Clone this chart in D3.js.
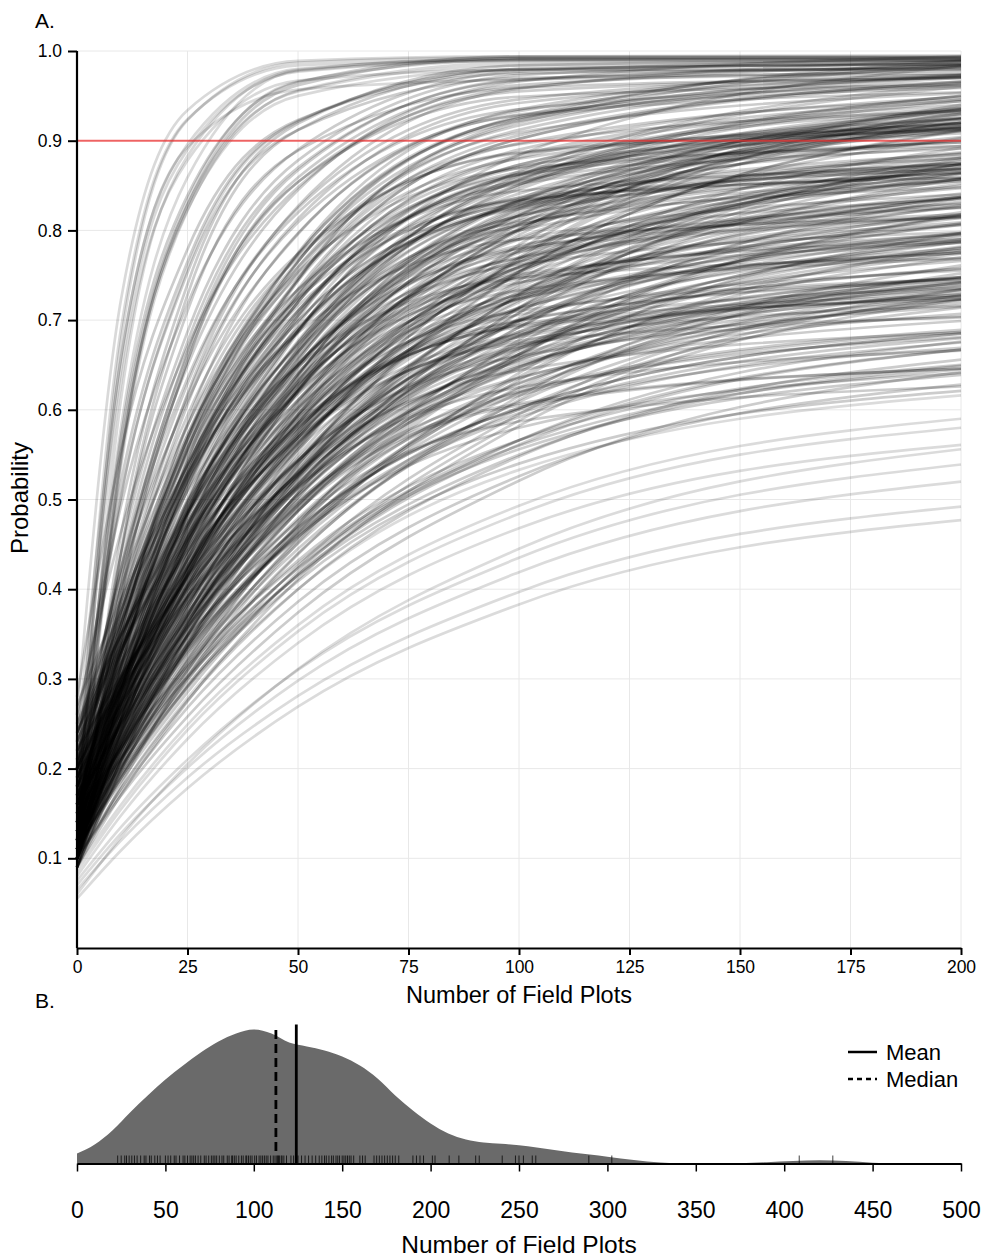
<!DOCTYPE html>
<html>
<head>
<meta charset="utf-8">
<script src="https://cdn.jsdelivr.net/npm/d3@7"></script>
<style>
  body { margin: 0; background: #fff; }
  text { font-family: "Liberation Sans", Arial, Helvetica, sans-serif; fill: #000; }
</style>
</head>
<body>
<div id="chart"></div>
<script>
// ----------------------------------------------------------------
// Data
// ----------------------------------------------------------------

// number of field plots at which each curve was read
const nSteps = [0, 10, 25, 50, 100, 200];

// probability curves, one row per curve, values at nSteps
const curvesFast = [
  [.140,.679,.923,.987,.993,.993],
  [.180,.692,.924,.984,.990,.990],
  [.120,.613,.883,.979,.992,.992],
  [.200,.646,.890,.977,.989,.989],
  [.160,.562,.829,.955,.984,.985],
  [.230,.660,.896,.980,.991,.991],
  [.110,.538,.822,.956,.987,.988],
  [.150,.554,.823,.950,.979,.980],
  [.260,.724,.934,.989,.994,.994],
  [.190,.503,.758,.921,.980,.986],
  [.140,.659,.893,.957,.968,.973],
  [.180,.631,.878,.967,.979,.979],
  [.160,.582,.859,.978,.990,.992],
  [.120,.548,.834,.966,.990,.992]
];
const curvesTop = [
  [.120,.462,.740,.919,.984,.990],
  [.220,.521,.765,.922,.980,.985],
  [.150,.425,.676,.870,.967,.982],
  [.100,.390,.655,.859,.962,.978],
  [.180,.405,.629,.825,.946,.974],
  [.250,.494,.718,.890,.977,.990],
  [.130,.368,.606,.813,.942,.971],
  [.200,.425,.649,.845,.966,.994],
  [.110,.328,.556,.775,.935,.982],
  [.160,.361,.572,.774,.922,.966],
  [.280,.555,.779,.923,.975,.980],
  [.140,.328,.535,.746,.920,.984],
  [.190,.362,.553,.746,.906,.965],
  [.100,.343,.586,.797,.929,.959],
  [.230,.416,.610,.796,.933,.973],
  [.120,.313,.527,.744,.923,.989],
  [.170,.440,.687,.878,.973,.988],
  [.090,.442,.728,.912,.979,.985],
  [.210,.423,.635,.820,.935,.961],
  [.130,.283,.462,.664,.861,.960],
  [.150,.303,.483,.686,.884,.983],
  [.260,.465,.670,.848,.959,.984],
  [.110,.394,.654,.854,.955,.970],
  [.200,.375,.568,.765,.927,.986],
  [.140,.343,.556,.759,.909,.953],
  [.170,.572,.839,.965,.994,.995],
  [.120,.545,.828,.962,.992,.993],
  [.240,.403,.583,.766,.917,.973],
  [.120,.442,.710,.889,.959,.970],
  [.200,.506,.753,.912,.970,.975],
  [.140,.413,.662,.854,.949,.962],
  [.120,.405,.665,.867,.968,.983],
  [.170,.393,.615,.809,.928,.954],
  [.140,.378,.618,.827,.958,.989],
  [.090,.313,.544,.765,.925,.972],
  [.160,.341,.542,.744,.897,.946],
  [.130,.316,.521,.730,.902,.964],
  [.210,.377,.563,.754,.912,.970],
  [.110,.268,.450,.654,.851,.950],
  [.140,.291,.469,.670,.866,.963],
  [.200,.355,.538,.735,.902,.966],
  [.150,.353,.568,.773,.925,.971]
];
const curvesHigh = [
  [.100,.254,.434,.637,.835,.935],
  [.150,.293,.460,.649,.833,.926],
  [.200,.361,.539,.720,.870,.925],
  [.120,.249,.406,.595,.801,.930],
  [.180,.301,.448,.624,.817,.937],
  [.110,.289,.487,.688,.854,.914],
  [.140,.333,.535,.729,.871,.913],
  [.250,.376,.523,.689,.851,.932],
  [.130,.242,.382,.558,.768,.922],
  [.160,.329,.516,.705,.862,.920],
  [.090,.243,.422,.624,.821,.920],
  [.220,.332,.469,.632,.812,.924],
  [.120,.317,.523,.720,.865,.908],
  [.170,.341,.530,.723,.881,.940],
  [.140,.252,.392,.568,.778,.932],
  [.190,.329,.493,.677,.856,.946],
  [.100,.282,.484,.688,.857,.919],
  [.270,.389,.529,.687,.841,.918],
  [.130,.256,.410,.593,.795,.920],
  [.150,.366,.582,.770,.887,.914],
  [.110,.261,.438,.638,.832,.930],
  [.210,.387,.572,.750,.880,.918],
  [.160,.336,.530,.727,.890,.949],
  [.120,.301,.501,.705,.873,.934],
  [.180,.387,.594,.774,.886,.911],
  [.100,.214,.358,.539,.754,.911],
  [.240,.351,.486,.647,.824,.934],
  [.130,.274,.442,.632,.818,.911],
  [.150,.327,.522,.720,.884,.944],
  [.200,.299,.424,.580,.766,.903],
  [.090,.242,.420,.621,.817,.915],
  [.160,.303,.472,.663,.849,.944],
  [.180,.346,.527,.710,.860,.915],
  [.140,.264,.416,.603,.807,.935],
  [.170,.289,.434,.608,.799,.917],
  [.110,.269,.457,.658,.829,.894],
  [.140,.353,.565,.759,.896,.933],
  [.240,.364,.509,.673,.833,.912],
  [.140,.252,.394,.572,.784,.940],
  [.160,.309,.486,.675,.837,.900],
  [.110,.258,.432,.632,.827,.925],
  [.200,.317,.457,.622,.802,.914],
  [.100,.302,.511,.710,.855,.898],
  [.160,.329,.516,.707,.863,.920],
  [.140,.232,.362,.538,.753,.912],
  [.170,.314,.481,.667,.846,.936],
  [.110,.292,.496,.702,.873,.937],
  [.150,.271,.420,.601,.801,.925],
  [.140,.354,.568,.754,.869,.894],
  [.110,.281,.468,.668,.857,.950],
  [.200,.375,.558,.734,.862,.898],
  [.100,.286,.489,.695,.863,.924],
  [.110,.224,.370,.553,.770,.929],
  [.150,.289,.452,.640,.824,.916]
];
const curvesMid = [
  [.100,.245,.414,.606,.792,.886],
  [.140,.306,.489,.675,.829,.885],
  [.180,.291,.426,.587,.764,.874],
  [.120,.226,.360,.528,.728,.874],
  [.220,.366,.527,.691,.826,.875],
  [.110,.299,.498,.688,.827,.868],
  [.160,.294,.451,.628,.800,.887],
  [.130,.226,.347,.507,.708,.874],
  [.190,.361,.539,.711,.836,.873],
  [.100,.272,.463,.656,.816,.875],
  [.250,.350,.472,.617,.777,.877],
  [.120,.260,.425,.610,.790,.881],
  [.150,.354,.557,.734,.844,.869],
  [.090,.199,.336,.508,.713,.863],
  [.170,.281,.416,.577,.754,.864],
  [.130,.291,.469,.650,.800,.855],
  [.200,.294,.413,.562,.740,.870],
  [.110,.232,.379,.556,.751,.872],
  [.140,.321,.510,.691,.824,.863],
  [.230,.350,.491,.650,.805,.883],
  [.120,.256,.415,.594,.769,.857],
  [.160,.250,.364,.513,.702,.858],
  [.100,.315,.529,.716,.833,.859],
  [.110,.255,.426,.620,.808,.904],
  [.130,.294,.475,.659,.811,.865],
  [.160,.276,.414,.577,.754,.864],
  [.130,.236,.372,.542,.744,.892],
  [.240,.381,.537,.699,.832,.880],
  [.100,.287,.484,.672,.809,.848],
  [.160,.274,.421,.598,.775,.867],
  [.150,.241,.357,.515,.714,.879],
  [.200,.371,.551,.725,.852,.891],
  [.090,.257,.451,.646,.806,.865],
  [.240,.338,.458,.601,.759,.857],
  [.120,.280,.455,.640,.815,.901],
  [.130,.339,.545,.724,.834,.859],
  [.100,.209,.348,.522,.729,.881],
  [.190,.296,.426,.585,.760,.869],
  [.140,.301,.481,.664,.816,.873],
  [.190,.282,.399,.546,.722,.850],
  [.110,.212,.349,.526,.726,.852],
  [.160,.336,.520,.699,.830,.868],
  [.100,.241,.403,.584,.759,.847]
];
const curvesLowMid = [
  [.100,.236,.395,.574,.749,.837],
  [.140,.295,.466,.639,.783,.835],
  [.180,.285,.412,.564,.731,.836],
  [.120,.210,.324,.473,.662,.818],
  [.210,.347,.498,.652,.779,.826],
  [.110,.287,.472,.650,.780,.818],
  [.150,.277,.425,.592,.756,.837],
  [.130,.228,.352,.507,.692,.828],
  [.240,.349,.476,.619,.759,.829],
  [.100,.261,.439,.620,.770,.825],
  [.160,.253,.370,.517,.692,.820],
  [.120,.249,.399,.569,.734,.817],
  [.190,.292,.415,.563,.725,.826],
  [.130,.324,.517,.686,.790,.814],
  [.090,.209,.353,.525,.714,.832],
  [.170,.319,.484,.651,.790,.840],
  [.110,.201,.316,.468,.659,.817],
  [.220,.304,.409,.541,.699,.814],
  [.110,.246,.407,.588,.765,.855],
  [.130,.283,.452,.623,.765,.815],
  [.200,.300,.422,.572,.737,.841],
  [.130,.220,.336,.487,.678,.836],
  [.190,.332,.486,.642,.769,.816],
  [.100,.275,.458,.634,.762,.798],
  [.150,.297,.455,.622,.781,.857],
  [.120,.216,.338,.491,.674,.808],
  [.230,.337,.462,.603,.741,.809],
  [.120,.276,.449,.628,.776,.830],
  [.170,.263,.382,.531,.708,.838],
  [.100,.234,.387,.559,.724,.807],
  [.190,.272,.385,.533,.700,.806],
  [.110,.224,.363,.533,.720,.837],
  [.180,.329,.496,.665,.806,.858],
  [.100,.189,.302,.452,.641,.797]
];
const curvesLower = [
  [.100,.229,.379,.549,.714,.797],
  [.140,.286,.447,.611,.746,.795],
  [.170,.270,.392,.537,.697,.797],
  [.120,.205,.313,.455,.633,.781],
  [.200,.330,.474,.621,.742,.786],
  [.110,.279,.457,.627,.751,.788],
  [.150,.268,.405,.561,.712,.788],
  [.130,.223,.340,.487,.662,.790],
  [.230,.333,.454,.590,.723,.790],
  [.100,.250,.416,.585,.724,.775],
  [.160,.248,.358,.497,.662,.782],
  [.120,.241,.383,.543,.700,.778],
  [.180,.275,.391,.530,.683,.778],
  [.090,.202,.339,.502,.682,.794],
  [.130,.311,.492,.649,.747,.769],
  [.210,.290,.390,.516,.666,.776],
  [.110,.239,.391,.563,.730,.815],
  [.130,.274,.433,.595,.728,.775],
  [.150,.255,.380,.527,.687,.787],
  [.110,.193,.299,.439,.615,.761],
  [.220,.345,.484,.629,.748,.791],
  [.100,.267,.443,.611,.733,.768],
  [.160,.278,.417,.575,.728,.806],
  [.130,.203,.310,.457,.637,.770],
  [.210,.318,.442,.580,.713,.780],
  [.090,.238,.402,.569,.706,.755],
  [.180,.263,.368,.505,.668,.787],
  [.110,.229,.369,.527,.682,.758],
  [.190,.285,.403,.544,.699,.796],
  [.090,.182,.309,.472,.657,.774]
];
const curvesBand70 = [
  [.100,.219,.359,.517,.671,.748],
  [.130,.267,.418,.572,.699,.746],
  [.160,.254,.368,.505,.655,.748],
  [.110,.190,.292,.426,.595,.734],
  [.190,.312,.446,.582,.695,.736],
  [.120,.232,.364,.512,.656,.729],
  [.140,.224,.329,.461,.619,.734],
  [.100,.257,.421,.579,.694,.728],
  [.220,.303,.404,.525,.658,.741],
  [.120,.220,.342,.487,.647,.747],
  [.150,.259,.386,.529,.669,.739],
  [.090,.171,.275,.411,.582,.723],
  [.170,.294,.430,.569,.684,.726],
  [.110,.227,.363,.518,.668,.743],
  [.130,.214,.319,.451,.609,.724],
  [.200,.299,.414,.544,.671,.735],
  [.100,.199,.320,.464,.623,.722],
  [.140,.286,.438,.585,.692,.723],
  [.120,.236,.372,.524,.674,.748],
  [.160,.249,.358,.488,.630,.719],
  [.110,.229,.371,.531,.687,.766],
  [.120,.255,.404,.556,.681,.726],
  [.140,.239,.356,.495,.645,.738],
  [.120,.200,.304,.440,.611,.752],
  [.180,.300,.432,.566,.677,.716],
  [.140,.247,.374,.520,.662,.734],
  [.130,.212,.315,.445,.601,.714],
  [.110,.267,.433,.593,.710,.746],
  [.200,.288,.392,.515,.648,.731],
  [.110,.208,.328,.471,.629,.727],
  [.160,.269,.398,.543,.685,.757],
  [.110,.186,.285,.419,.588,.728],
  [.180,.304,.442,.583,.700,.744],
  [.100,.215,.349,.502,.650,.723],
  [.140,.224,.331,.465,.625,.742],
  [.190,.287,.400,.528,.653,.715],
  [.100,.219,.350,.494,.648,.742],
  [.130,.274,.424,.569,.674,.703]
];
const curvesBand65 = [
  [.100,.209,.336,.479,.619,.689],
  [.130,.254,.390,.529,.644,.686],
  [.110,.190,.290,.416,.566,.676],
  [.150,.235,.338,.461,.596,.680],
  [.090,.197,.322,.463,.600,.669],
  [.120,.242,.376,.512,.625,.666],
  [.100,.170,.258,.374,.521,.642],
  [.170,.264,.374,.499,.620,.681],
  [.110,.195,.299,.424,.560,.645],
  [.140,.212,.302,.415,.550,.649],
  [.100,.222,.356,.492,.605,.646],
  [.120,.197,.294,.416,.561,.667],
  [.130,.224,.334,.459,.580,.641],
  [.100,.174,.268,.386,.526,.628],
  [.160,.244,.346,.468,.602,.685],
  [.110,.192,.291,.409,.540,.621],
  [.110,.219,.348,.493,.635,.707],
  [.140,.264,.402,.543,.660,.704],
  [.100,.178,.276,.400,.548,.656],
  [.170,.250,.348,.469,.602,.685],
  [.100,.207,.334,.477,.616,.687],
  [.110,.230,.362,.496,.607,.646],
  [.180,.274,.386,.513,.636,.699],
  [.130,.210,.309,.432,.566,.650],
  [.150,.222,.314,.429,.566,.667],
  [.090,.210,.342,.476,.587,.626],
  [.140,.229,.334,.458,.592,.675],
  [.120,.202,.303,.423,.556,.639]
];
const curvesLow = [
  [.055,.109,.178,.269,.383,.477],
  [.065,.120,.190,.281,.397,.492],
  [.070,.128,.201,.298,.419,.520],
  [.075,.135,.210,.310,.435,.539],
  [.080,.148,.233,.340,.468,.561],
  [.085,.155,.243,.353,.484,.580],
  [.090,.160,.249,.360,.493,.590],
  [.095,.178,.279,.400,.533,.616],
  [.060,.124,.205,.311,.445,.556]
];

// number of field plots needed per species (rug)
const plotsNeeded = [
  23, 25, 27, 28, 29.5, 31, 32.5, 34, 36, 38, 39, 41, 42, 44, 45.5, 47,
  50, 51.5, 53, 55, 56, 58, 60, 61, 62.5, 64, 65, 66, 67, 68.5, 70, 72, 73, 74.5,
  76, 77, 78, 79, 80.5, 82, 83, 85, 86, 87.5, 88, 89, 90, 91.5, 93, 94, 95.5, 96,
  97, 98, 99, 100.5, 101.5, 103, 104, 105, 106, 107, 108,
  109.5, 111, 112, 113, 113.5, 114, 114.5, 115.5, 116, 117, 118.5,
  121, 122.5, 125, 127, 129, 131, 133, 135, 137, 138.5, 140, 141, 142.5, 144, 145,
  146.5, 147.5, 148.5, 150, 151, 152, 153, 154, 155, 156.5,
  160, 161.5, 163, 168, 169.5, 171, 172.5, 174, 175.5, 177, 178.5, 180, 182,
  190, 192, 194, 196, 201, 202.5, 210.5, 216, 225.5, 227.5, 240.5, 248, 250,
  252.5, 257.5, 259.5, 289.5, 302.5, 408.5, 427.5
];

// density of plots needed (x in plots, y in density x 1000)
const densityX = [0, 10, 20, 30, 40, 50, 60, 70, 80, 90, 100, 110, 120, 130, 140, 150,
  160, 170, 180, 190, 200, 210, 220, 230, 240, 250, 260, 270, 280, 290, 300, 315, 330,
  345, 360, 375, 390, 405, 420, 435, 450, 465, 500];
const densityY = [0.40, 0.76, 1.32, 2.04, 2.72, 3.36, 3.92, 4.44, 4.88, 5.20, 5.36, 5.20,
  4.84, 4.68, 4.52, 4.28, 3.92, 3.40, 2.72, 2.12, 1.60, 1.20, 0.96, 0.84, 0.79, 0.73,
  0.64, 0.54, 0.44, 0.36, 0.27, 0.14, 0.04, 0, 0, 0.01, 0.05, 0.10, 0.13, 0.10, 0.03,
  0, 0];

const probTicks = [0.1, 0.2, 0.3, 0.4, 0.5, 0.6, 0.7, 0.8, 0.9, 1.0];
const plotTicksA = [0, 25, 50, 75, 100, 125, 150, 175, 200];
const plotTicksB = [0, 50, 100, 150, 200, 250, 300, 350, 400, 450, 500];
const targetProb = 0.9;

// ----------------------------------------------------------------
// Drawing
// ----------------------------------------------------------------

const width = 985, height = 1257;
const svg = d3.select("#chart").append("svg")
  .attr("width", width)
  .attr("height", height);

// Panel A
// -------

const xA = d3.scaleLinear().domain([0, 200]).range([77, 961]);
const yA = d3.scaleLinear().domain([0, 1]).range([948, 51]);

const gridA = svg.append("g").attr("stroke", "#e8e8e8").attr("stroke-width", 1);
gridA.selectAll("line.h").data(probTicks).join("line")
  .attr("x1", xA(0)).attr("x2", xA(200))
  .attr("y1", d => yA(d)).attr("y2", d => yA(d));
gridA.selectAll("line.v").data(plotTicksA.slice(1)).join("line")
  .attr("x1", d => xA(d)).attr("x2", d => xA(d))
  .attr("y1", yA(1)).attr("y2", yA(0));

const curveLine = d3.line()
  .x((d, i) => xA(nSteps[i]))
  .y(d => yA(d))
  .curve(d3.curveMonotoneX);

// outlying curves are drawn a little lighter, the bulk a little darker
const curveGroups = [
  { rows: curvesLow, opacity: 0.14 },
  { rows: curvesFast, opacity: 0.15 },
  { rows: [].concat(curvesTop, curvesHigh, curvesMid, curvesLowMid,
      curvesLower, curvesBand70, curvesBand65), opacity: 0.2 }
];
curveGroups.forEach(function (grp) {
  svg.append("g").selectAll("path").data(grp.rows).join("path")
    .attr("d", curveLine)
    .attr("fill", "none")
    .attr("stroke", "#000")
    .attr("stroke-opacity", grp.opacity)
    .attr("stroke-width", 2.7);
});

svg.append("line")
  .attr("x1", xA(0)).attr("x2", xA(200))
  .attr("y1", yA(targetProb)).attr("y2", yA(targetProb))
  .attr("stroke", "#ee2a2a").attr("stroke-opacity", 0.7).attr("stroke-width", 2);

const axisA_x = svg.append("g")
  .attr("transform", "translate(0," + yA(0) + ")")
  .call(d3.axisBottom(xA).tickValues(plotTicksA).tickSize(7).tickPadding(6).tickSizeOuter(0));
const axisA_y = svg.append("g")
  .attr("transform", "translate(" + xA(0) + ",0)")
  .call(d3.axisLeft(yA).tickValues(probTicks).tickFormat(d3.format(".1f")).tickSize(9).tickPadding(6).tickSizeOuter(0));
[axisA_x, axisA_y].forEach(function (g) {
  g.select(".domain").attr("stroke-width", 2.2);
  g.selectAll(".tick line").attr("stroke-width", 2);
  g.selectAll(".tick text").attr("font-size", 17.5)
    .attr("font-family", "'Liberation Sans', Arial, sans-serif");
});
axisA_y.select(".domain").attr("d", "M0," + yA(1) + "V" + yA(0));

svg.append("text").text("A.").attr("x", 35).attr("y", 28).attr("font-size", 21);
svg.append("text").text("Probability")
  .attr("transform", "translate(28,498) rotate(-90)")
  .attr("text-anchor", "middle").attr("font-size", 24);
svg.append("text").text("Number of Field Plots")
  .attr("x", 519).attr("y", 1003).attr("text-anchor", "middle").attr("font-size", 23.5);

// Panel B
// -------

const xB = d3.scaleLinear().domain([0, 500]).range([77, 961]);
const yB = d3.scaleLinear().domain([0, 5.36]).range([1163.5, 1029.5]);

svg.append("text").text("B.").attr("x", 35).attr("y", 1008).attr("font-size", 21);

const area = d3.area()
  .x((d, i) => xB(densityX[i]))
  .y0(yB(0))
  .y1(d => yB(d))
  .curve(d3.curveMonotoneX);
svg.append("path").datum(densityY)
  .attr("d", area)
  .attr("fill", "#6a6a6a");

svg.append("g").selectAll("line").data(plotsNeeded).join("line")
  .attr("x1", d => xB(d)).attr("x2", d => xB(d))
  .attr("y1", yB(0) - 8).attr("y2", yB(0))
  .attr("stroke", "#000").attr("stroke-opacity", 0.75).attr("stroke-width", 1);

const meanPlots = d3.mean(plotsNeeded);
const medianPlots = d3.median(plotsNeeded);
svg.append("line")
  .attr("x1", xB(meanPlots)).attr("x2", xB(meanPlots))
  .attr("y1", 1024.5).attr("y2", yB(0))
  .attr("stroke", "#000").attr("stroke-width", 2.8);
svg.append("line")
  .attr("x1", xB(medianPlots)).attr("x2", xB(medianPlots))
  .attr("y1", 1030).attr("y2", 1155)
  .attr("stroke", "#000").attr("stroke-width", 2.8).attr("stroke-dasharray", "9,5");

const axisB = svg.append("g")
  .attr("transform", "translate(0," + yB(0) + ")")
  .call(d3.axisBottom(xB).tickValues(plotTicksB).tickSize(8).tickPadding(30).tickSizeOuter(0));
axisB.select(".domain").attr("stroke-width", 2);
axisB.selectAll(".tick line").attr("stroke-width", 1.5);
axisB.selectAll(".tick text").attr("font-size", 23)
  .attr("font-family", "'Liberation Sans', Arial, sans-serif");

svg.append("text").text("Number of Field Plots")
  .attr("x", 519).attr("y", 1253).attr("text-anchor", "middle").attr("font-size", 24.5);

// legend
const legend = svg.append("g").attr("transform", "translate(848,1052)");
legend.append("line").attr("x1", 0).attr("x2", 29).attr("y1", 0).attr("y2", 0)
  .attr("stroke", "#000").attr("stroke-width", 2.5);
legend.append("line").attr("x1", 0).attr("x2", 29).attr("y1", 27).attr("y2", 27)
  .attr("stroke", "#000").attr("stroke-width", 2.5).attr("stroke-dasharray", "5,4");
legend.append("text").text("Mean").attr("x", 38).attr("y", 8).attr("font-size", 22);
legend.append("text").text("Median").attr("x", 38).attr("y", 35).attr("font-size", 22);
</script>
</body>
</html>
